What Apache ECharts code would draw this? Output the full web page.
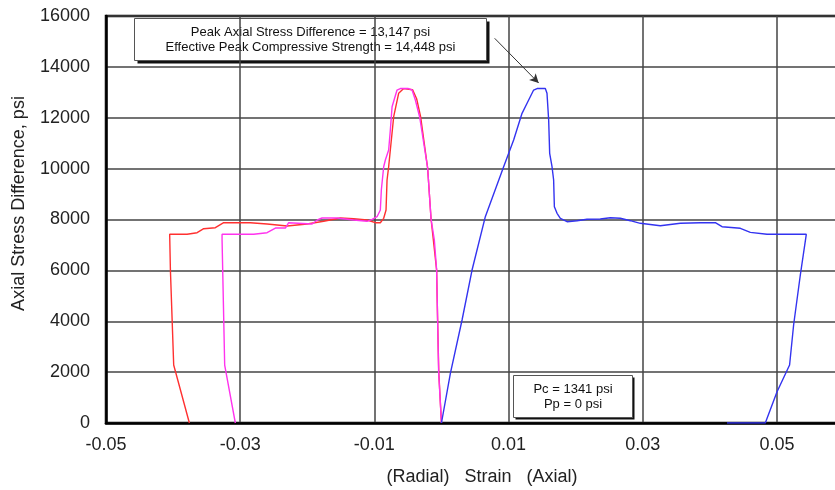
<!DOCTYPE html>
<html>
<head>
<meta charset="utf-8">
<script src="https://cdn.jsdelivr.net/npm/echarts@6/dist/echarts.min.js"></script>
<style>
  html, body { margin: 0; padding: 0; background: #fff; }
  #chart { width: 835px; height: 490px; }
</style>
</head>
<body>
<div id="chart"></div>
<script>
// Radial gauge 1 (red): strain and axial stress difference, psi
const redStrain = [0.0000, -0.0004, -0.00057, -0.00072, -0.00155, -0.00206, -0.0031, -0.0037, -0.0043, -0.00563,
  -0.00638, -0.00712, -0.00762, -0.00787, -0.00811, -0.00826, -0.00861, -0.00911, -0.00985, -0.01109,
  -0.01309, -0.01507, -0.01756, -0.02003, -0.02301, -0.02599, -0.02848, -0.03246, -0.0337, -0.03544,
  -0.03642, -0.03791, -0.04051, -0.0404, -0.03991, -0.03757];
const redStress = [0, 2000, 4010, 6014, 8019, 10024, 12029, 12750, 13100, 13147,
  12961, 12041, 10732, 10075, 9552, 8373, 8047, 7874, 7874, 7980,
  8031, 8059, 7929, 7823, 7744, 7823, 7874, 7874, 7677, 7638,
  7481, 7418, 7418, 6014, 2280, 0];

// Radial gauge 2 (magenta)
const magentaStrain = [0.0000, -0.00042, -0.00057, -0.00072, -0.00106, -0.00155, -0.00206, -0.00325, -0.00389, -0.00438,
  -0.00493, -0.00613, -0.00662, -0.00736, -0.00762, -0.00787, -0.00836, -0.00861, -0.00896, -0.00911,
  -0.0096, -0.01034, -0.01109, -0.01309, -0.01556, -0.0178, -0.0185, -0.01928, -0.02277, -0.02326,
  -0.02475, -0.02599, -0.02799, -0.0327, -0.0327, -0.03231, -0.03072];
const magentaStress = [0, 2005, 4010, 6014, 7194, 8019, 10024, 12029, 12697, 13090,
  13147, 13147, 13090, 12434, 11518, 10732, 10339, 10075, 9159, 8373,
  8110, 8008, 7929, 7980, 8059, 8059, 7980, 7823, 7874, 7665,
  7665, 7481, 7418, 7418, 7194, 2280, 0];

// Axial gauge (blue)
const blueStrain = [0.0000, 0.00133, 0.00307, 0.00456, 0.00654, 0.00927, 0.01076, 0.01201, 0.01276, 0.01374,
  0.01425, 0.01548, 0.01573, 0.01598, 0.01613, 0.01648, 0.01672, 0.01683, 0.01723, 0.01772,
  0.01872, 0.02021, 0.0217, 0.02368, 0.02517, 0.02666, 0.02815, 0.02964, 0.03262, 0.0356,
  0.03858, 0.04082, 0.04182, 0.04455, 0.04604, 0.04852, 0.05051, 0.05438, 0.05349, 0.05249,
  0.05189, 0.05002, 0.04827, 0.04256];
const blueStress = [0, 1954, 4049, 6014, 8110, 10075, 11125, 12174, 12568, 13090,
  13147, 13147, 12961, 11911, 10602, 10075, 9552, 8503, 8243, 8047,
  7913, 7953, 8008, 8019, 8071, 8047, 7953, 7850, 7756, 7850,
  7874, 7874, 7717, 7654, 7496, 7418, 7418, 7418, 5818, 3852,
  2280, 1230, 0, 0];

// Arrow from the peak annotation to the axial peak: [strain, stress]
const arrowFrom = [0.00793, 15123];
const arrowTo = [0.01449, 13365];

const peakLines = ['Peak Axial Stress Difference = 13,147 psi', 'Effective Peak Compressive Strength = 14,448 psi'];
const pressureLines = ['Pc = 1341 psi', 'Pp = 0 psi'];

const xName = '(Radial)   Strain   (Axial)';
const yName = 'Axial Stress Difference, psi';

function zip(xs, ys) { return xs.map((x, i) => [x, ys[i]]); }

const FONT = '"Liberation Sans", Arial, sans-serif';
const chart = echarts.init(document.getElementById('chart'));

function lineSeries(name, xs, ys, color, extra) {
  return Object.assign({
    name: name,
    type: 'line',
    data: zip(xs, ys),
    showSymbol: false,
    symbol: 'none',
    smooth: false,
    animation: false,
    lineStyle: { color: color, width: 1.4 },
    z: 3
  }, extra || {});
}

// Text box with a solid drop shadow on its right and bottom edges
function noteBox(left, top, w, h, shadow, lines) {
  return {
    type: 'group', left: left, top: top, z: 20,
    children: [
      { type: 'rect', shape: { x: shadow, y: shadow, width: w, height: h }, style: { fill: '#111' } },
      { type: 'rect', shape: { x: 0, y: 0, width: w, height: h }, style: { fill: '#fff', stroke: '#555', lineWidth: 1 } },
      { type: 'text', x: w / 2, y: h / 2 - 7.5, style: { text: lines[0], font: '13px ' + FONT, fill: '#111', align: 'center', verticalAlign: 'middle' } },
      { type: 'text', x: w / 2, y: h / 2 + 7.5, style: { text: lines[1], font: '13px ' + FONT, fill: '#111', align: 'center', verticalAlign: 'middle' } }
    ]
  };
}

chart.setOption({
  animation: false,
  backgroundColor: '#fff',
  // the plot area runs on past the right edge of the canvas (to strain 0.06)
  grid: {
    left: 106, top: 16, width: 738, height: 407,
    outerBoundsMode: 'none',
    containLabel: false,
    show: true, borderColor: '#000', borderWidth: 2.5, backgroundColor: 'transparent'
  },
  xAxis: {
    type: 'value',
    min: -0.05, max: 0.06, interval: 0.01,
    name: xName,
    nameLocation: 'middle',
    nameGap: 45,
    nameTextStyle: { fontFamily: FONT, fontSize: 18, color: '#222', padding: [0, 0, 0, 14] },
    axisLine: { show: true, onZero: false, lineStyle: { color: '#000', width: 2.5 } },
    axisTick: { show: false },
    axisLabel: {
      fontFamily: FONT, fontSize: 18, color: '#222', margin: 13,
      formatter: function (v) {
        const k = Math.round(v * 100);
        return (k % 2 !== 0) ? String(Number(v.toFixed(2))) : '';
      }
    },
    // grid lines only at the labelled (odd hundredth) strains
    splitLine: { show: true, lineStyle: { color: ['#444', 'rgba(0,0,0,0)'], width: 1.5 } }
  },
  yAxis: {
    type: 'value',
    min: 0, max: 16000, interval: 2000,
    name: yName,
    nameLocation: 'middle',
    nameGap: 78,
    nameTextStyle: { fontFamily: FONT, fontSize: 18, color: '#222', padding: [0, 0, 0, 32] },
    axisLine: { show: true, onZero: false, lineStyle: { color: '#000', width: 2.5 } },
    axisTick: { show: false },
    axisLabel: { fontFamily: FONT, fontSize: 18, color: '#222', margin: 16, formatter: v => String(v) },
    splitLine: { show: true, lineStyle: { color: '#444', width: 1.5 } }
  },
  series: [
    lineSeries('Radial 1', redStrain, redStress, '#ff3030'),
    lineSeries('Radial 2', magentaStrain, magentaStress, '#ff33ee'),
    lineSeries('Axial', blueStrain, blueStress, '#3333f0', {
      markLine: {
        silent: true,
        animation: false,
        symbol: ['none', 'arrow'],
        symbolSize: [7, 9],
        label: { show: false },
        lineStyle: { color: '#333', width: 1, type: 'solid' },
        data: [[{ coord: arrowFrom }, { coord: arrowTo }]]
      }
    })
  ],
  graphic: [
    noteBox(134, 18, 352, 42, 3, peakLines),
    noteBox(513, 375, 119, 42, 2, pressureLines)
  ]
});
</script>
</body>
</html>
